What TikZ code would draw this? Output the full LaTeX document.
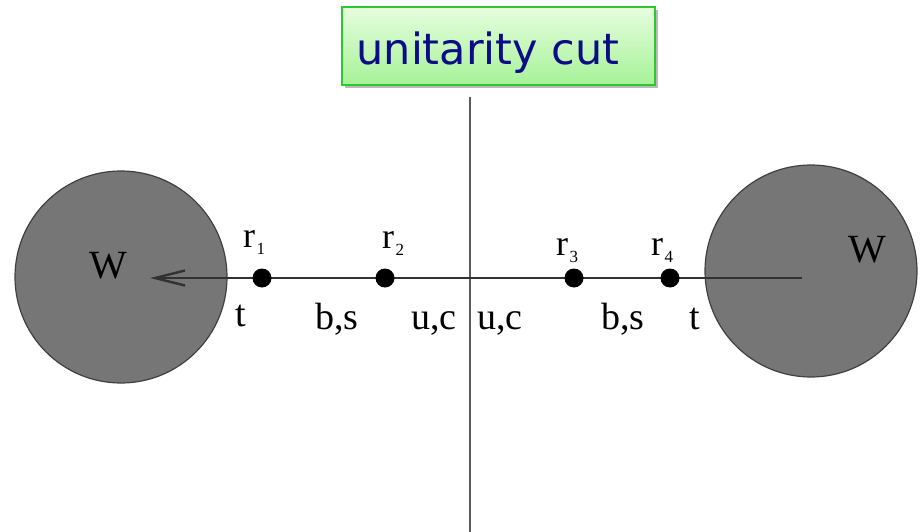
\documentclass[tikz,border=0pt]{standalone}
\usepackage{fontspec}
\setmainfont{Liberation Serif}
\newfontfamily\cutfont{DejaVu Sans}
\usetikzlibrary{arrows.meta,shadows}

\definecolor{blobgray}{RGB}{118,118,118}
\definecolor{linegray}{RGB}{50,50,50}
\definecolor{cutgray}{RGB}{90,90,90}
\definecolor{boxtop}{RGB}{230,253,222}
\definecolor{boxbot}{RGB}{166,242,152}
\definecolor{boxedge}{RGB}{45,200,45}
\definecolor{cutblue}{RGB}{12,12,135}

% r with a lowered index
\newcommand{\rlab}[1]{r\kern1.5pt\raisebox{-7pt}{\fontsize{17}{17}\selectfont #1}}

\begin{document}
\begin{tikzpicture}[x=1pt, y=-1pt,
  blob/.style={circle, draw=black!75, fill=blobgray, line width=1.2pt,
    minimum size=212pt, inner sep=0pt},
  vertex/.style={circle, fill=black, minimum size=19pt, inner sep=0pt},
  lbl/.style={font=\fontsize{38}{38}\selectfont, inner sep=0pt, anchor=base},
  rlbl/.style={font=\fontsize{36}{36}\selectfont, inner sep=0pt, anchor=base west},
  prop/.style={draw=linegray, line width=2.4pt},
  cutbox/.style={rectangle, draw=boxedge, line width=2pt, top color=boxtop,
    bottom color=boxbot, minimum width=313pt, minimum height=78pt,
    drop shadow={shadow xshift=3pt, shadow yshift=-3pt, opacity=0.45, fill=black!60}}]
  \useasboundingbox (0,0) rectangle (921,532);

  % the two W blobs
  \node[blob] (wl) at (121,277) {};
  \node[blob] (wr) at (811,271) {};
  \node[lbl, font=\fontsize{40}{40}\selectfont] (wlname) at (108,278) {W};
  \node[lbl, font=\fontsize{40}{40}\selectfont] (wrname) at (867,262) {W};

  % cut line
  \coordinate (cuttop) at (470,97);
  \coordinate (cutbot) at (470,532);
  \draw[cutgray, line width=2.4pt] (cuttop) -- (cutbot);

  % top propagator
  \coordinate (tstart) at (802,278);
  \coordinate (ttip) at (150,278);
  \draw[prop, -{Straight Barb[length=30pt, width=15pt]}] (tstart) -- (ttip);

  % vertices
  \node[vertex] (r1) at (262,278) {};
  \node[vertex] (r2) at (385,278) {};
  \node[vertex] (r3) at (574,278) {};
  \node[vertex] (r4) at (670,278) {};

  \node[rlbl] (r1name) at (243,247) {\rlab{1}};
  \node[rlbl] (r2name) at (382,248) {\rlab{2}};
  \node[rlbl] (r3name) at (556,255) {\rlab{3}};
  \node[rlbl] (r4name) at (651,255) {\rlab{4}};

  % quark labels
  \node[lbl] (tl) at (241,326) {t};
  \node[lbl] (bsl) at (337,329) {b,s};
  \node[lbl] (ucl) at (434,329) {u,c};
  \node[lbl] (ucr) at (500,329) {u,c};
  \node[lbl] (bsr) at (623,329) {b,s};
  \node[lbl] (tr) at (695,329) {t};

  % title box
  \node[cutbox] (cut) at (498.5,46) {};
  \node[anchor=base, inner sep=0pt, text=cutblue,
    font=\cutfont\fontsize{43}{43}\selectfont] (cutname) at (488,65) {unitarity cut};
\end{tikzpicture}
\end{document}
